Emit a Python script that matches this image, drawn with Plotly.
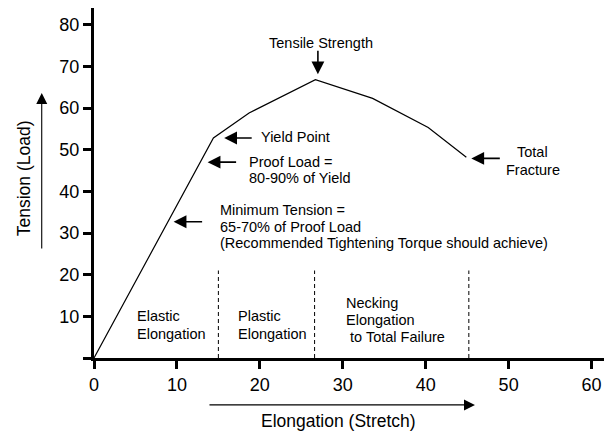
import plotly.graph_objects as go

# data
elongation = [0, 14.4, 18.7, 26.7, 33.6, 40.3, 44.9]
tension = [0, 52.8, 58.8, 66.8, 62.3, 55.3, 48.2]
region_bounds = [15.0, 26.6, 45.2]
region_top = 21
x_ticks = [0, 10, 20, 30, 40, 50, 60]
y_ticks = [0, 10, 20, 30, 40, 50, 60, 70, 80]
y_ticklabels = [""] + [str(v) for v in y_ticks[1:]]

FONT = "Liberation Sans, Arial, Helvetica, sans-serif"
ASIZE = 14.5

fig = go.Figure()
fig.add_trace(go.Scatter(x=elongation, y=tension, mode="lines",
                         line=dict(color="black", width=1.2),
                         hoverinfo="skip", showlegend=False))

for xb in region_bounds:
    fig.add_shape(type="line", x0=xb, x1=xb, y0=0, y1=region_top, xref="x", yref="y",
                  line=dict(color="black", width=1, dash="4px,3px"))

ann = []
def txt(lines, x, y, anchor="left", dy=16.7):
    for i, t in enumerate(lines):
        ann.append(dict(text=t, x=x, y=y, xref="x", yref="y", showarrow=False,
                        xanchor=anchor, yanchor="middle", yshift=-dy * i,
                        font=dict(family=FONT, size=ASIZE, color="black")))

def arrow(x, y, ax, ay, w=1.6):
    ann.append(dict(text="", x=x, y=y, xref="x", yref="y", ax=ax, ay=ay,
                    showarrow=True, arrowhead=2, arrowsize=1.6, arrowwidth=w,
                    arrowcolor="black", standoff=0))

txt(["Tensile Strength"], 27.4, 75.6, "center")
arrow(27.0, 68.1, 0, -25)
txt(["Yield Point"], 19.9, 53.0)
arrow(15.7, 52.8, 29, 0)
txt(["Proof Load =", "80-90% of Yield"], 18.4, 47.1)
arrow(13.7, 47.0, 30, 0)
txt(["Minimum Tension =", "65-70% of Proof Load",
     "(Recommended Tightening Torque should achieve)"], 15.0, 35.5)
arrow(9.6, 32.7, 30, 0)
txt(["Total", "Fracture"], 52.9, 49.4, "center", dy=18)
arrow(45.5, 47.9, 30, 0)
txt(["Elastic", "Elongation"], 4.9, 10.0, dy=17.5)
txt(["Plastic", "Elongation"], 17.1, 10.0, dy=17.5)
txt(["Necking", "Elongation", " to Total Failure"], 30.2, 13.1)

# axis titles with arrows (paper coords)
ann.append(dict(text="Tension (Load)", x=-0.137, y=0.514, xref="paper", yref="paper",
                showarrow=False, textangle=-90, xanchor="center", yanchor="middle",
                font=dict(family=FONT, size=17.5, color="black")))
ann.append(dict(text="Elongation (Stretch)", x=0.480, y=-0.18, xref="paper", yref="paper",
                showarrow=False, xanchor="center", yanchor="middle",
                font=dict(family=FONT, size=17.5, color="black")))
ann.append(dict(text="", x=-0.1025, y=0.757, xref="paper", yref="paper", ax=0, ay=157,
                showarrow=True, arrowhead=2, arrowsize=2.0, arrowwidth=1.1,
                arrowcolor="black", standoff=0))
ann.append(dict(text="", x=0.747, y=-0.134, xref="paper", yref="paper", ax=-267, ay=0,
                showarrow=True, arrowhead=2, arrowsize=2.0, arrowwidth=1.1,
                arrowcolor="black", standoff=0))

fig.update_layout(
    width=607, height=433,
    margin=dict(l=94, r=3, t=8, b=75),
    paper_bgcolor="white", plot_bgcolor="white",
    annotations=ann,
    xaxis=dict(range=[0, 61.5], tickvals=x_ticks, showline=True, linewidth=3,
               linecolor="black", ticks="outside", ticklen=8, tickwidth=2.5,
               tickcolor="black", showgrid=False, zeroline=False,
               tickfont=dict(family=FONT, size=18, color="black")),
    yaxis=dict(range=[0, 84], tickvals=y_ticks, ticktext=y_ticklabels, showline=True,
               linewidth=3, linecolor="black", ticks="outside", ticklen=8, tickwidth=2.5,
               tickcolor="black", showgrid=False, zeroline=False,
               tickfont=dict(family=FONT, size=18, color="black")),
)
fig.write_html("out.html", config={"displayModeBar": False},
               post_script="document.body.style.margin='0px';document.body.style.overflow='hidden';")
